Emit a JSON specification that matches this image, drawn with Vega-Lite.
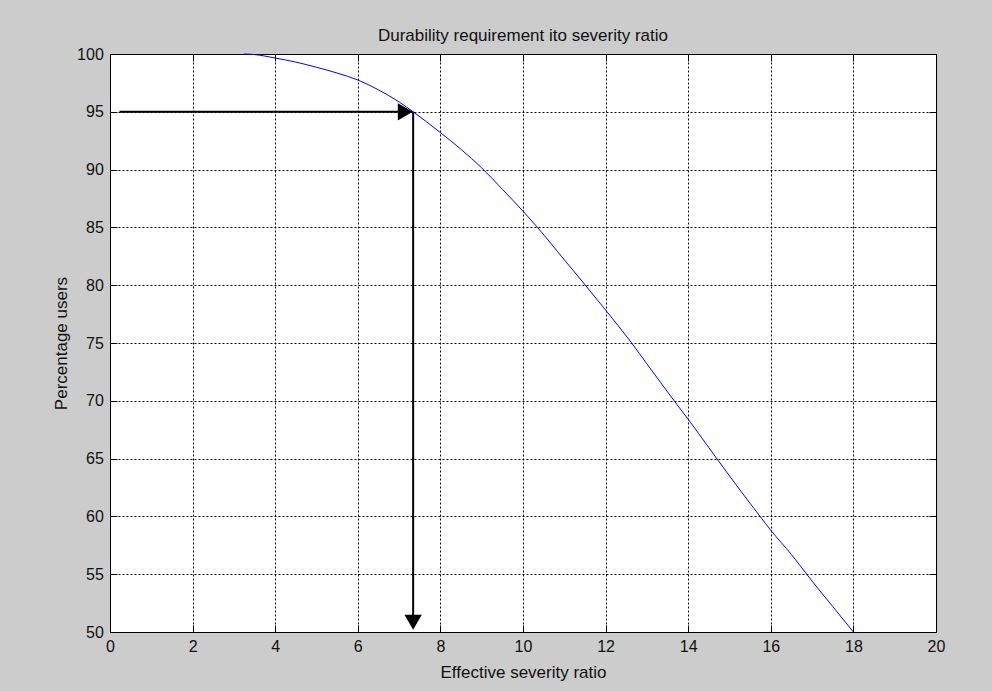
{
  "$schema": "https://vega.github.io/schema/vega-lite/v6.json",
  "width": 826,
  "height": 578,
  "autosize": {"type": "none"},
  "padding": {"left": 110, "top": 54, "right": 56, "bottom": 59},
  "background": "#cccccc",
  "title": {
    "text": "Durability requirement ito severity ratio",
    "font": "Liberation Sans",
    "fontSize": 17,
    "fontWeight": "normal",
    "color": "#111111",
    "anchor": "middle",
    "offset": 1
  },
  "config": {
    "view": {"stroke": "#000000", "strokeWidth": 1, "fill": "#ffffff"},
    "axis": {
      "labelFont": "Liberation Sans",
      "labelFontSize": 16,
      "labelColor": "#111111",
      "labelFlush": false,
      "titleFont": "Liberation Sans",
      "titleFontSize": 17,
      "titleFontWeight": "normal",
      "titleColor": "#111111",
      "domainColor": "#000000",
      "tickColor": "#000000",
      "tickSize": -7,
      "labelPadding": 13.7,
      "gridColor": "#000000",
      "gridOpacity": 1,
      "gridDash": [2, 2],
      "gridWidth": 1
    }
  },
  "datasets": {
    "curve": [
      {"ratio": 3.24, "users": 100.0},
      {"ratio": 3.5, "users": 99.95},
      {"ratio": 4.0, "users": 99.65},
      {"ratio": 4.5, "users": 99.3},
      {"ratio": 5.0, "users": 98.85},
      {"ratio": 5.5, "users": 98.35},
      {"ratio": 6.0, "users": 97.75},
      {"ratio": 6.5, "users": 96.9},
      {"ratio": 7.0, "users": 95.85},
      {"ratio": 7.34, "users": 95.0},
      {"ratio": 8.0, "users": 93.2},
      {"ratio": 8.5, "users": 91.75},
      {"ratio": 9.0, "users": 90.15},
      {"ratio": 9.5, "users": 88.3},
      {"ratio": 10.0, "users": 86.4},
      {"ratio": 10.35, "users": 85.0},
      {"ratio": 11.0, "users": 82.2},
      {"ratio": 11.5, "users": 80.05},
      {"ratio": 12.0, "users": 77.85},
      {"ratio": 12.63, "users": 75.0},
      {"ratio": 13.0, "users": 73.2},
      {"ratio": 13.66, "users": 70.0},
      {"ratio": 14.0, "users": 68.4},
      {"ratio": 14.5, "users": 65.95},
      {"ratio": 15.0, "users": 63.5},
      {"ratio": 15.74, "users": 60.0},
      {"ratio": 16.0, "users": 58.8},
      {"ratio": 16.5, "users": 56.7},
      {"ratio": 16.87, "users": 55.0},
      {"ratio": 17.0, "users": 54.4},
      {"ratio": 17.5, "users": 52.2},
      {"ratio": 18.0, "users": 50.0}
    ],
    "arrows": [
      {"x": 0.23, "x2": 7.1, "y": 95, "y2": 95},
      {"x": 7.34, "x2": 7.34, "y": 95, "y2": 51.2}
    ],
    "heads": [
      {"x": 7.15, "y": 95, "dir": "right"},
      {"x": 7.34, "y": 50.85, "dir": "down"}
    ]
  },
  "layer": [
    {
      "data": {"name": "curve"},
      "mark": {"type": "line", "color": "#0000ff", "strokeWidth": 1, "interpolate": "monotone"},
      "encoding": {
        "x": {
          "field": "ratio", "type": "quantitative",
          "scale": {"domain": [0, 20], "nice": false, "zero": false},
          "axis": {"orient": "bottom", "values": [0,2,4,6,8,10,12,14,16,18,20], "grid": true, "title": "Effective severity ratio", "titlePadding": 10}
        },
        "y": {
          "field": "users", "type": "quantitative",
          "scale": {"domain": [50, 100], "nice": false, "zero": false},
          "axis": {"orient": "left", "values": [50,55,60,65,70,75,80,85,90,95,100], "grid": true, "title": "Percentage users", "titlePadding": 6}
        }
      }
    },
    {
      "data": {"name": "arrows"},
      "mark": {"type": "rule", "color": "#000000", "strokeWidth": 2},
      "encoding": {
        "x": {
          "field": "x", "type": "quantitative",
          "scale": {"domain": [0, 20], "nice": false, "zero": false},
          "axis": {"orient": "top", "values": [0,2,4,6,8,10,12,14,16,18,20], "labels": false, "grid": false, "domain": false, "title": null}
        },
        "x2": {"field": "x2"},
        "y": {
          "field": "y", "type": "quantitative",
          "scale": {"domain": [50, 100], "nice": false, "zero": false},
          "axis": {"orient": "right", "values": [50,55,60,65,70,75,80,85,90,95,100], "labels": false, "grid": false, "domain": false, "title": null}
        },
        "y2": {"field": "y2"}
      }
    },
    {
      "data": {"name": "heads"},
      "mark": {"type": "point", "filled": true, "color": "#000000", "opacity": 1, "size": 300},
      "encoding": {
        "x": {"field": "x", "type": "quantitative", "scale": {"domain": [0, 20], "nice": false, "zero": false}, "axis": null},
        "y": {"field": "y", "type": "quantitative", "scale": {"domain": [50, 100], "nice": false, "zero": false}, "axis": null},
        "shape": {"field": "dir", "type": "nominal", "scale": {"domain": ["right", "down"], "range": ["triangle-right", "triangle-down"]}, "legend": null}
      }
    }
  ],
  "resolve": {"axis": {"x": "independent", "y": "independent"}}
}
